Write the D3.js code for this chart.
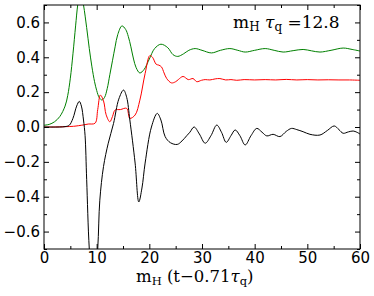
<!DOCTYPE html>
<html><head><meta charset="utf-8">
<script src="https://cdn.jsdelivr.net/npm/d3@7"></script>
<style>body{margin:0;background:#fff}svg{display:block}</style>
</head><body>
<svg id="c" width="374" height="296"></svg>
<script>
const xTicks=[0,10,20,30,40,50,60];
const xMinor=[5,15,25,35,45,55];
const yTicks=[-0.6,-0.4,-0.2,0.0,0.2,0.4,0.6];
const yMinor=[-0.7,-0.5,-0.3,-0.1,0.1,0.3,0.5,0.7];

const greenX=[0,1,2,3,4,4.5,5,5.5,6,6.4,6.9,7.5,8.1,8.6,9.1,9.6,10,10.5,11,11.5,12,12.5,13,13.5,14,14.8,15.5,16,16.5,17,17.5,18.2,19,20,21,22.2,23.5,24.5,25.4,26.5,27.5,28.7,30,31.8,33.5,35.3,36.8,38.2,40,42,43.7,45.4,47.3,49.2,50.8,52.4,54.5,56.8,58.5,60];
const greenY=[0.01,0.015,0.03,0.06,0.12,0.18,0.28,0.42,0.58,0.7,0.79,0.7,0.57,0.45,0.345,0.26,0.21,0.168,0.155,0.17,0.22,0.3,0.38,0.46,0.53,0.58,0.56,0.52,0.46,0.39,0.34,0.31,0.33,0.39,0.45,0.475,0.455,0.415,0.405,0.42,0.44,0.45,0.44,0.425,0.44,0.45,0.44,0.43,0.44,0.45,0.44,0.43,0.438,0.445,0.437,0.43,0.44,0.453,0.445,0.436];

const redX=[0,2,4,5.6,7.5,8.4,9.7,10.2,10.7,11.3,11.8,12.5,13,13.5,14.5,15.7,16.3,17.3,18.2,19.2,20.1,20.6,21.3,21.8,22.3,22.8,23.3,24.2,25,25.5,26.4,27.4,28.3,29,29.9,30.6,31.5,32.5,33.4,34.5,35.5,36.6,38,40,42,44,46,48,50,52,54,56,58,60];
const redY=[0,0,0.002,0.004,0.012,0.017,0.022,0.1,0.183,0.15,0.07,0.03,0.06,0.097,0.1,0.107,0.05,0.069,0.154,0.307,0.41,0.4,0.36,0.355,0.345,0.31,0.278,0.253,0.26,0.272,0.29,0.272,0.278,0.26,0.268,0.272,0.27,0.276,0.278,0.27,0.272,0.268,0.272,0.27,0.272,0.27,0.273,0.27,0.272,0.27,0.271,0.27,0.27,0.268];

const blackX=[0,3,4,4.8,5.5,6.2,6.7,7.1,7.5,7.8,8.1,8.6,9.4,10.2,10.6,11.3,12.2,13.2,14.2,15.1,15.7,16.3,17.3,18,18.6,19.2,20.4,21.5,22.2,23,24,25.3,26.2,27.1,27.7,28.5,29.5,30.6,31.7,32.8,33.7,34.6,35.5,36.3,37.2,38.2,39.3,40.4,41.4,42.3,43.5,44.8,46,47,48,49.2,50.5,52.4,53.8,55.1,56,56.8,57.8,58.7,59.4,60];
const blackY=[0,0,0.002,0.01,0.05,0.12,0.147,0.12,0.04,-0.05,-0.3,-0.7,-1.0,-0.7,-0.42,-0.227,-0.093,0.02,0.16,0.212,0.17,0.04,-0.207,-0.43,-0.35,-0.207,0,0.078,0.04,-0.055,-0.09,-0.1,-0.08,-0.05,-0.03,0.0,-0.04,-0.093,-0.05,0.011,-0.03,-0.088,-0.05,-0.017,-0.05,-0.103,-0.05,-0.008,-0.03,-0.051,-0.042,-0.055,-0.025,-0.008,-0.015,-0.027,-0.042,-0.046,-0.02,0.006,-0.015,-0.036,-0.028,-0.023,-0.03,-0.04];

const svg=d3.select("#c");
const L=44,R=360,T=5,B=249;
const x=d3.scaleLinear().domain([0,60]).range([L,R]);
const y=d3.scaleLinear().domain([-0.7,0.7]).range([B,T]);

svg.append("defs").append("clipPath").attr("id","clip")
  .append("rect").attr("x",L).attr("y",T).attr("width",R-L).attr("height",B-T);

const line=d3.line().x(d=>x(d[0])).y(d=>y(d[1])).curve(d3.curveCatmullRom.alpha(0.5));
const g=svg.append("g").attr("clip-path","url(#clip)");
const series=[[greenX,greenY,"#008000"],[redX,redY,"#ff0000"],[blackX,blackY,"#000000"]];
series.forEach(([xs,ys,c])=>{
  g.append("path").datum(xs.map((v,i)=>[v,ys[i]]))
   .attr("d",line).attr("fill","none").attr("stroke",c).attr("stroke-width",1);
});

const fmtY=v=>(v<0?"\u2212":"")+Math.abs(v).toFixed(1);
function ax(gen,tr,vals,size,fmt,pad){
  const a=svg.append("g").attr("transform",tr)
    .call(gen.tickValues(vals).tickSize(-size).tickPadding(pad).tickFormat(fmt));
  a.select(".domain").remove();
  a.selectAll("line").attr("stroke","#000").attr("stroke-width",1);
  a.selectAll("text").attr("font-family","DejaVu Sans").attr("font-size",15).attr("fill","#000");
  return a;
}
ax(d3.axisBottom(x),`translate(0,${B})`,xTicks,5,d=>d,3);
ax(d3.axisBottom(x),`translate(0,${B})`,xMinor,3,()=>"",3);
ax(d3.axisTop(x),`translate(0,${T})`,xTicks,5,()=>"",3);
ax(d3.axisTop(x),`translate(0,${T})`,xMinor,3,()=>"",3);
ax(d3.axisLeft(y),`translate(${L},0)`,yTicks,5,fmtY,4);
ax(d3.axisLeft(y),`translate(${L},0)`,yMinor,3,()=>"",4);
ax(d3.axisRight(y),`translate(${R},0)`,yTicks,5,()=>"",6);
ax(d3.axisRight(y),`translate(${R},0)`,yMinor,3,()=>"",6);

svg.append("rect").attr("x",L).attr("y",T).attr("width",R-L).attr("height",B-T)
  .attr("fill","none").attr("stroke","#000").attr("stroke-width",1);

const SERIF="DejaVu Serif";
// x label
const xl=svg.append("text").attr("x",136).attr("y",282).attr("text-anchor","start")
  .attr("font-family",SERIF).attr("font-size",16.5).attr("fill","#000");
xl.append("tspan").text("m");
xl.append("tspan").attr("font-size",11.5).attr("dy",3).text("H");
xl.append("tspan").attr("dy",-3).text(" (t\u22120.71");
xl.append("tspan").attr("font-style","italic").text("\u03c4");
xl.append("tspan").attr("font-size",11.5).attr("dy",3).text("q");
xl.append("tspan").attr("dy",-3).text(")");

// annotation
const an=svg.append("text").attr("x",233).attr("y",28).attr("text-anchor","start")
  .attr("font-family",SERIF).attr("font-size",17).attr("fill","#000");
an.append("tspan").text("m");
an.append("tspan").attr("font-size",12).attr("dy",3).text("H");
an.append("tspan").attr("dy",-3).text(" ");
an.append("tspan").attr("font-style","italic").text("\u03c4");
an.append("tspan").attr("font-size",12).attr("dy",3).text("q");
an.append("tspan").attr("dy",-3).text(" =12.8");
</script>
</body></html>
